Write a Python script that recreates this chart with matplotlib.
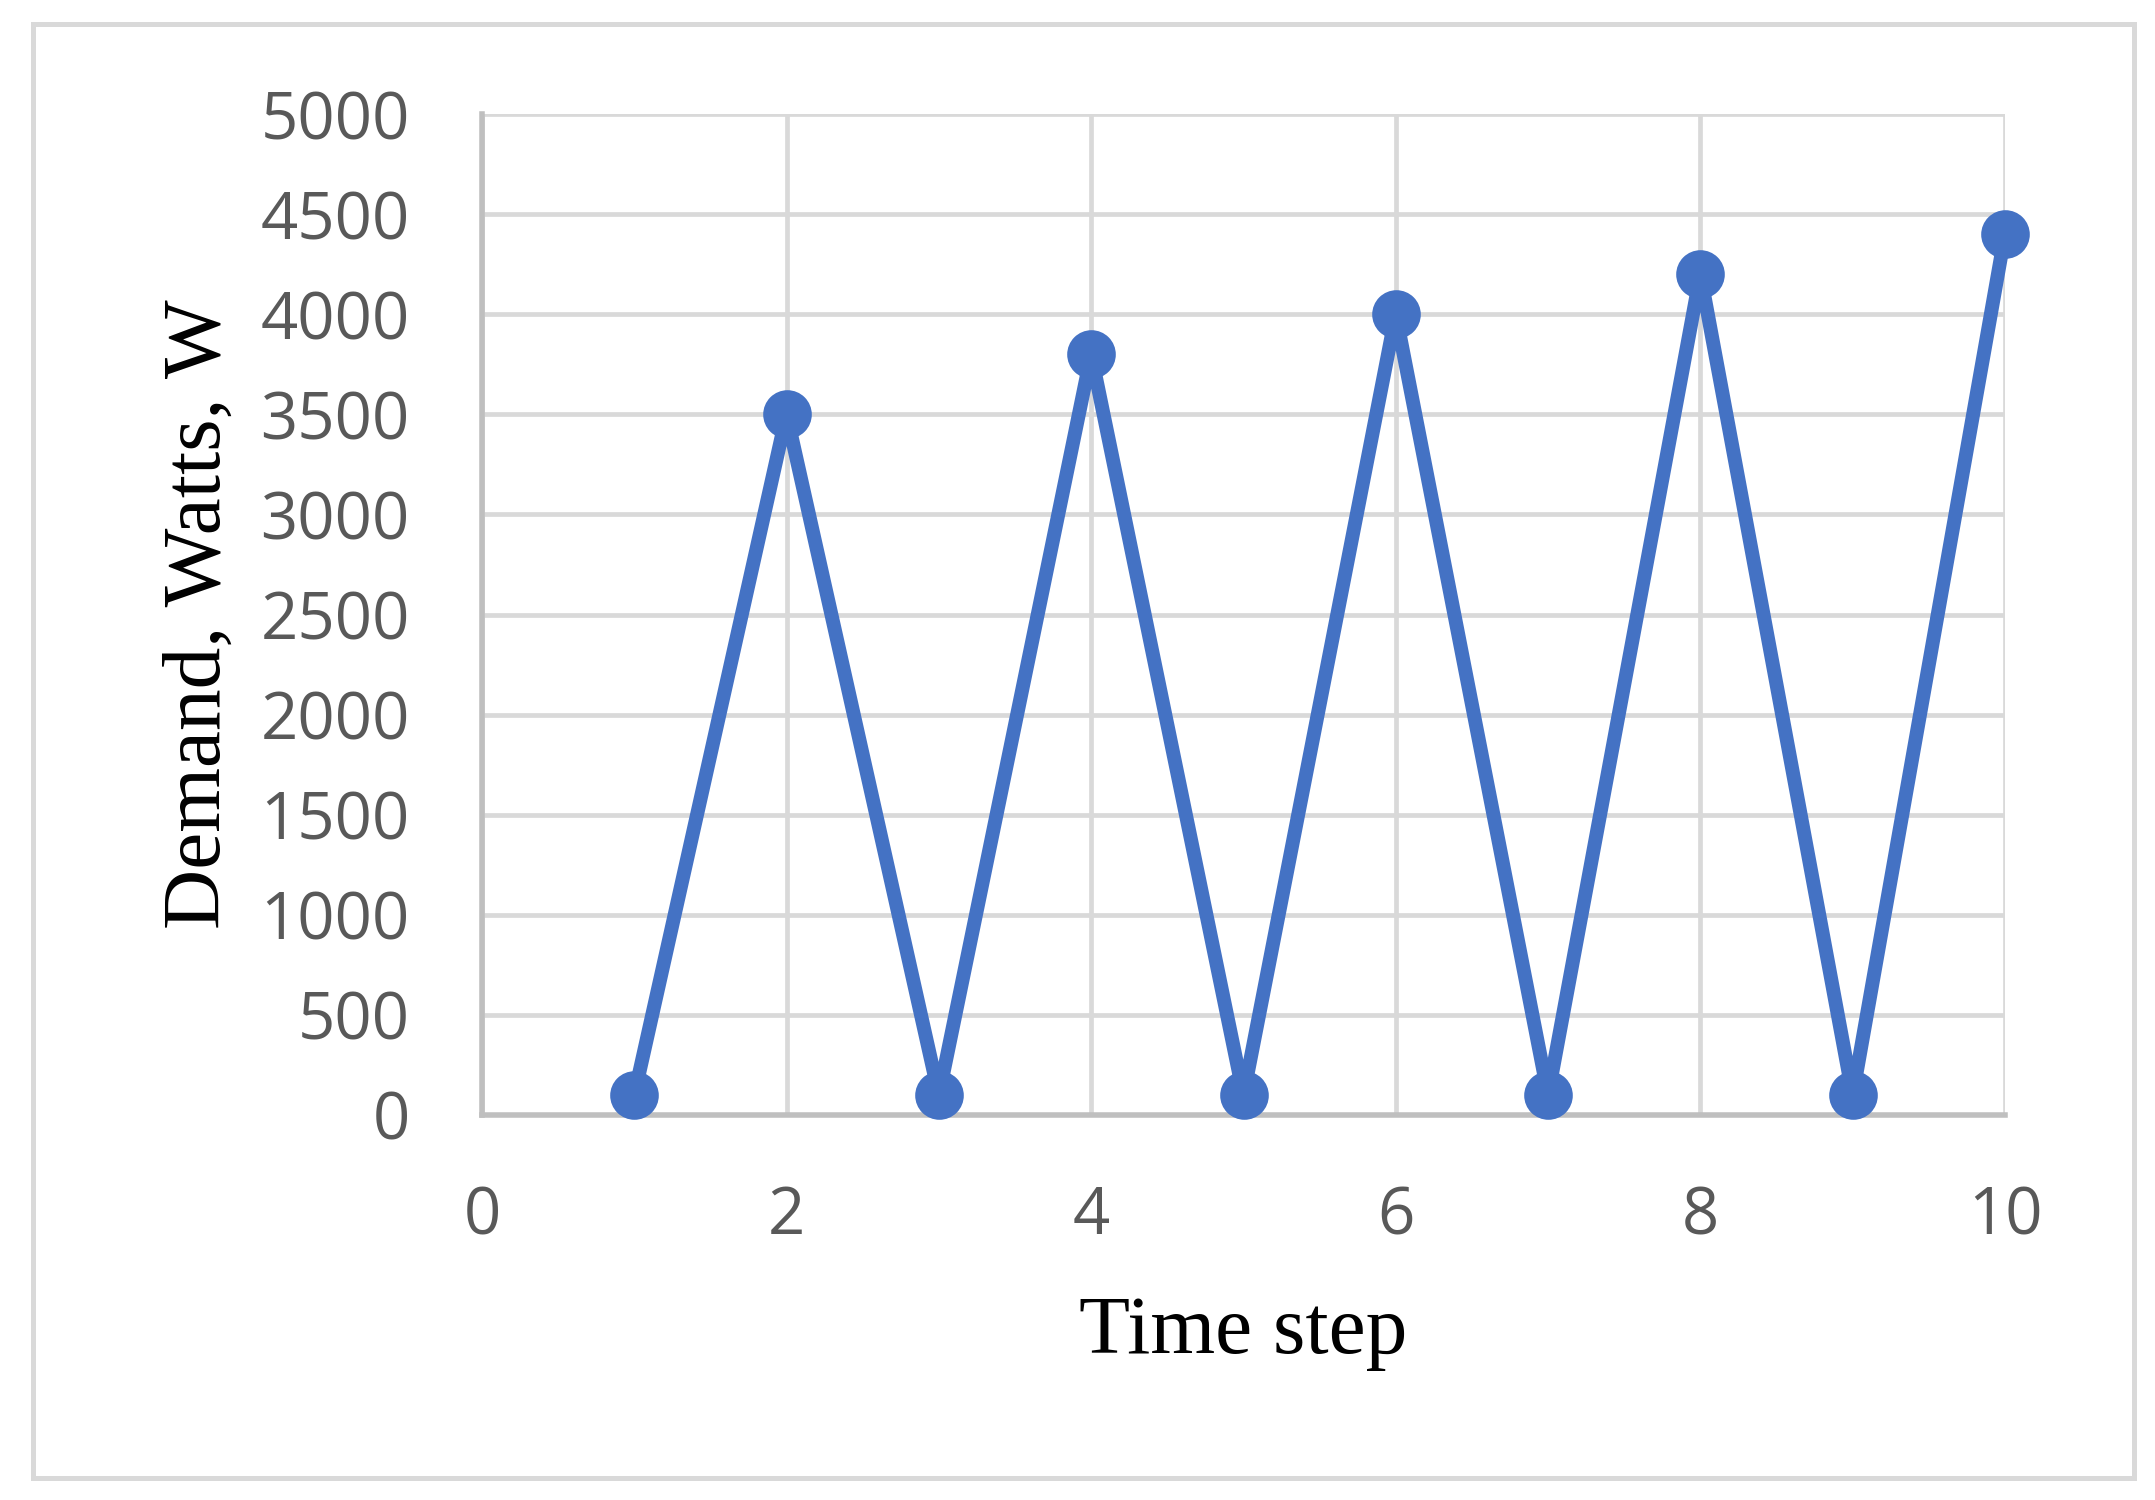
import matplotlib
matplotlib.use("Agg")
import matplotlib.pyplot as plt
from matplotlib.patches import Rectangle

time_step = [1, 2, 3, 4, 5, 6, 7, 8, 9, 10]
demand = [100, 3500, 100, 3800, 100, 4000, 100, 4200, 100, 4400]
x_ticks = [0, 2, 4, 6, 8, 10]
y_ticks = [0, 500, 1000, 1500, 2000, 2500, 3000, 3500, 4000, 4500, 5000]
x_label = "Time step"
y_label = "Demand, Watts, W"

W, H, DPI = 2155, 1500, 100
fig = plt.figure(figsize=(W / DPI, H / DPI), dpi=DPI)
fig.patch.set_facecolor("white")

# outer chart frame
fig.patches.append(Rectangle((33 / W, 1 - 1478 / H), (2134 - 33) / W, (1478 - 24) / H,
                             transform=fig.transFigure, fill=False,
                             edgecolor="#d9d9d9", linewidth=3.6, zorder=0))

ax = fig.add_axes([482 / W, 385 / H, (2005 - 482) / W, (1115 - 114) / H])
ax.set_xlim(0, 10)
ax.set_ylim(0, 5000)
ax.set_xticks(x_ticks)
ax.set_yticks(y_ticks)
ax.grid(True, color="#d9d9d9", linewidth=3.4)
ax.set_axisbelow(True)
for s in ["top", "right"]:
    ax.spines[s].set_visible(False)
for s in ["left", "bottom"]:
    ax.spines[s].set_color("#bfbfbf")
    ax.spines[s].set_linewidth(4.0)
    ax.spines[s].set_zorder(1.5)

ax.plot(time_step, demand, color="#4472c4", linewidth=10, marker="o",
        markersize=35, markeredgewidth=0, zorder=3, clip_on=False)

ax.tick_params(axis="both", length=0, labelsize=47, labelcolor="#595959")
ax.tick_params(axis="x", pad=50)
ax.tick_params(axis="y", pad=52)
for lab in ax.get_xticklabels() + ax.get_yticklabels():
    lab.set_fontfamily("Open Sans")

ax.set_xlabel(x_label, fontsize=60, family="Liberation Serif", color="black")
ax.set_ylabel(y_label, fontsize=60, family="Liberation Serif", color="black", va="center")
ax.xaxis.set_label_coords(0.5, -0.218)
ax.yaxis.set_label_coords(-0.185, 0.5)
ax.xaxis.label.set_va("center")

fig.savefig("out.png", dpi=DPI)
